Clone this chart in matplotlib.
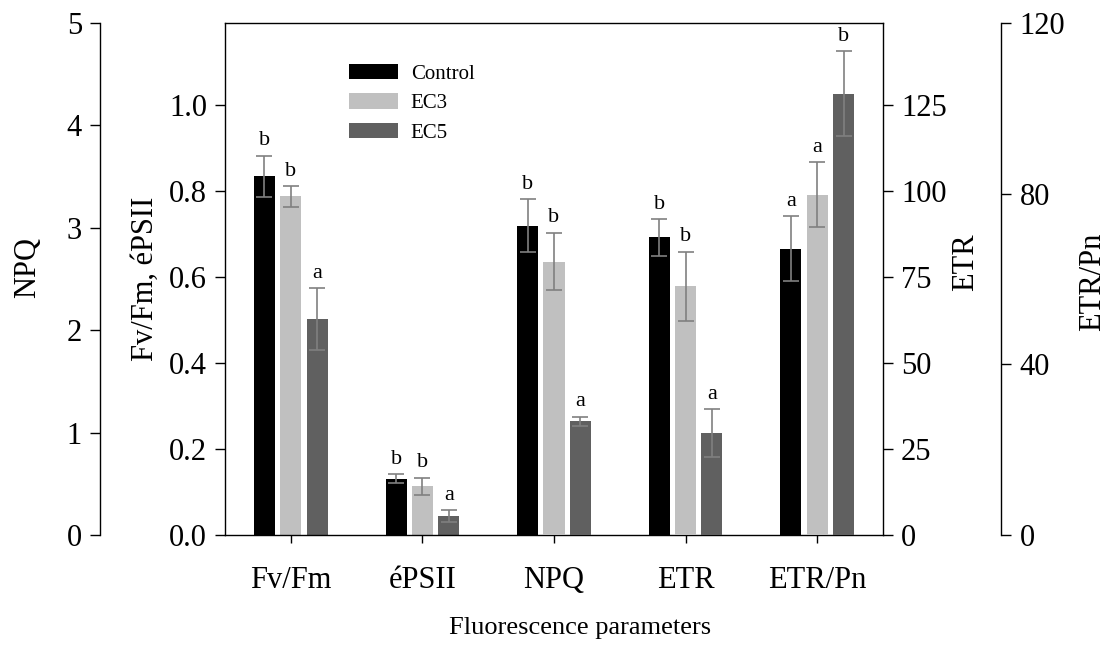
import numpy as np
import matplotlib
matplotlib.use('Agg')
import matplotlib.pyplot as plt
from matplotlib.patches import Patch

plt.rcParams['font.family'] = ['Liberation Serif', 'DejaVu Serif']

# ## Data
params = ['Fv/Fm', 'éPSII', 'NPQ', 'ETR', 'ETR/Pn']
treatments = ['Control', 'EC3', 'EC5']

control = [0.834, 0.131, 3.02, 86.5, 67.1]
ec3 = [0.787, 0.113, 2.67, 72.3, 79.8]
ec5 = [0.501, 0.044, 1.11, 29.6, 103.4]

control_err = [0.048, 0.010, 0.26, 5.3, 7.6]
ec3_err = [0.024, 0.020, 0.28, 10.0, 7.6]
ec5_err = [0.072, 0.013, 0.046, 7.0, 10.0]

control_sig = ['b', 'b', 'b', 'b', 'a']
ec3_sig = ['b', 'b', 'b', 'b', 'a']
ec5_sig = ['a', 'a', 'a', 'a', 'b']

# which y axis each parameter is read on
param_axis = ['ratio', 'ratio', 'npq', 'etr', 'etrpn']

colors = ['#000000', '#c0c0c0', '#606060']
err_color = '#808080'
tick_fs = 22
label_fs = 22

# ## Axes
fig = plt.figure(figsize=(11.12, 6.5), dpi=100)
ax = fig.add_axes([225 / 1112, 115 / 650, 658 / 1112, 512 / 650])
ax_etr = ax.twinx()
ax_npq = ax.twinx()
ax_pn = ax.twinx()

axes = {'ratio': ax, 'npq': ax_npq, 'etr': ax_etr, 'etrpn': ax_pn}

ax.set_ylim(0, 1.19)
ax.set_yticks(np.arange(0, 1.01, 0.2))
ax.set_yticklabels(['%.1f' % v for v in np.arange(0, 1.01, 0.2)])

ax_etr.set_ylim(0, 148.8)
ax_etr.set_yticks(np.arange(0, 126, 25))

ax_npq.set_ylim(0, 5)
ax_npq.set_yticks(range(6))
ax_npq.yaxis.set_ticks_position('left')
ax_npq.spines['left'].set_position(('axes', -0.19))
ax_npq.spines['left'].set_visible(True)

ax_pn.set_ylim(0, 120)
ax_pn.set_yticks([0, 40, 80, 120])
ax_pn.spines['right'].set_position(('axes', 1.18))

ax.spines['right'].set_visible(False)
for a in (ax_etr, ax_npq, ax_pn):
    a.spines['top'].set_visible(False)
    a.spines['bottom'].set_visible(False)
ax_npq.spines['right'].set_visible(False)
ax_pn.spines['left'].set_visible(False)
ax_etr.spines['left'].set_visible(False)

for a in (ax, ax_etr, ax_npq, ax_pn):
    for s in a.spines.values():
        s.set_linewidth(1.0)
    a.tick_params(axis='y', direction='out', length=7, width=1.0,
                  labelsize=tick_fs, pad=6)

ax.set_xlim(-0.5, 4.5)
ax.set_xticks(range(len(params)))
ax.set_xticklabels(params, fontsize=tick_fs)
ax.tick_params(axis='x', direction='out', length=6, width=1.0, pad=16)

# ## Bars
x = np.arange(len(params))
width = 0.16
offsets = [-0.2, 0.0, 0.2]
series = [(control, control_err, control_sig),
          (ec3, ec3_err, ec3_sig),
          (ec5, ec5_err, ec5_sig)]

for j, (vals, errs, sigs) in enumerate(series):
    for i in range(len(params)):
        a = axes[param_axis[i]]
        xi = x[i] + offsets[j]
        a.bar(xi, vals[i], width, color=colors[j], zorder=2)
        a.errorbar(xi, vals[i], yerr=errs[i], fmt='none', ecolor=err_color,
                   elinewidth=1.2, capsize=6, capthick=1.2, zorder=3)
        a.annotate(sigs[i], (xi, vals[i] + errs[i]), xytext=(0, 4),
                   textcoords='offset points', ha='center', va='bottom',
                   fontsize=16)

# ## Labels
fig.text(28 / 1112, 1 - 268 / 650, 'NPQ', rotation=90, ha='center',
         va='center', fontsize=label_fs)
fig.text(145 / 1112, 1 - 279 / 650, 'Fv/Fm, éPSII', rotation=90,
         ha='center', va='center', fontsize=label_fs)
fig.text(966 / 1112, 1 - 262 / 650, 'ETR', rotation=90, ha='center',
         va='center', fontsize=label_fs)
fig.text(1093 / 1112, 1 - 282 / 650, 'ETR/Pn', rotation=90, ha='center',
         va='center', fontsize=label_fs)
fig.text(580 / 1112, 1 - 628 / 650, 'Fluorescence parameters',
         ha='center', va='center', fontsize=19)

handles = [Patch(facecolor=c, edgecolor='none') for c in colors]
fig.legend(handles, treatments, loc='upper left',
           bbox_to_anchor=(330 / 1112, 1 - 45 / 650), frameon=False,
           fontsize=15, handlelength=2.35, handleheight=0.77,
           labelspacing=0.45, handletextpad=0.63)

fig.savefig('out.png', dpi=100)
